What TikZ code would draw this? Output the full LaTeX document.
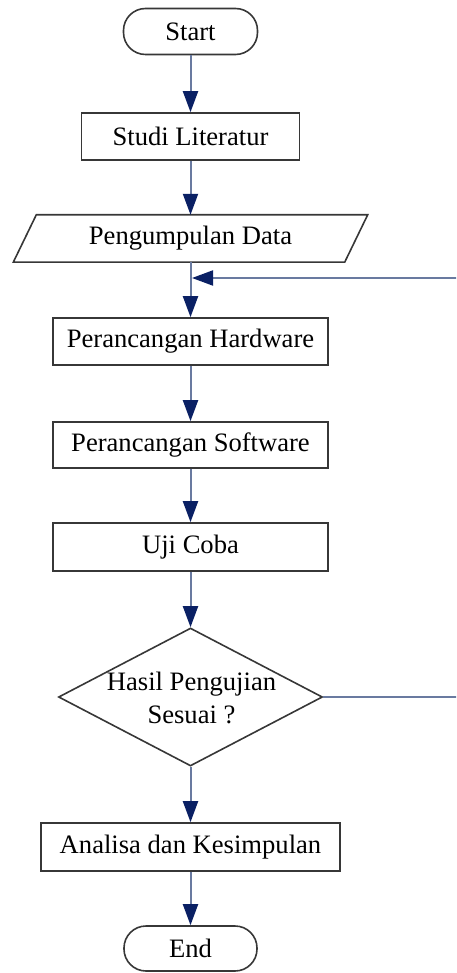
\documentclass[tikz,border=0pt]{standalone}
\usepackage{fontspec}
\setmainfont{Liberation Serif}
\usetikzlibrary{shapes.geometric,arrows.meta}
\definecolor{edgegrey}{RGB}{55,55,55}
\definecolor{flowline}{RGB}{105,122,160}
\definecolor{tipnavy}{RGB}{10,32,100}
\tikzset{
  boxline/.style={draw=edgegrey, line width=1.6pt},
  procbox/.style={boxline, rectangle, inner sep=0pt, minimum height=47pt},
  termbox/.style={boxline, rectangle, rounded corners=22pt, inner sep=0pt, minimum width=134pt, minimum height=46pt},
  flow/.style={draw=flowline, line width=2pt, -{Triangle[length=21pt,width=15pt,color=tipnavy]}},
}
\begin{document}
\begin{tikzpicture}[x=1pt, y=-1pt, font=\fontsize{26.6}{33}\selectfont]
  \useasboundingbox (0,0) rectangle (456,973);
  \clip (0,0) rectangle (456,973);

  % main column of steps
  \node[termbox] (start) at (190.5,31.5) {Start};
  \node[procbox, minimum width=218pt] (studi) at (190.5,136.5) {Studi Literatur};
  \node[inner sep=0pt, minimum width=354pt, minimum height=47pt] (data) at (190.5,238.5) {Pengumpulan Data};
  \draw[boxline] ([xshift=23pt]data.north west) -- (data.north east)
     -- ([xshift=-23pt]data.south east) -- (data.south west) -- cycle;
  \node[procbox, minimum width=275pt] (hw) at (190.5,341.5) {Perancangan Hardware};
  \node[procbox, minimum width=275pt, minimum height=46pt] (sw) at (190.5,445) {Perancangan Software};
  \node[procbox, minimum width=275pt, minimum height=48pt] (uji) at (190.5,547) {Uji Coba};
  \node[boxline, diamond, inner sep=0pt, minimum width=264pt, minimum height=138pt] (cek) at (190.5,697) {};
  \node[align=center, inner sep=0pt] (cektext) at (191.5,698) {Hasil Pengujian\\Sesuai ?};
  \node[procbox, minimum width=299pt, minimum height=48pt] (hasil) at (190.5,847) {Analisa dan Kesimpulan};
  \node[termbox, minimum width=133pt, minimum height=45pt] (end) at (190.5,948.5) {End};

  % connectors
  \draw[flow] (start) -- (studi);
  \draw[flow] (studi) -- (data);
  \draw[flow] (data) -- (hw);
  \draw[flow] (hw) -- (sw);
  \draw[flow] (sw) -- (uji);
  \draw[flow] (uji) -- (cek);
  \draw[flow] (cek) -- (hasil);
  \draw[flow] (hasil) -- (end);

  % loop back when the test fails
  \coordinate (loopA) at (462,697);
  \coordinate (loopB) at (462,278);
  \coordinate (loopEnd) at (192,278);
  \draw[flow] (cek.east) -- (loopA) -- (loopB) -- (loopEnd);
\end{tikzpicture}
\end{document}
